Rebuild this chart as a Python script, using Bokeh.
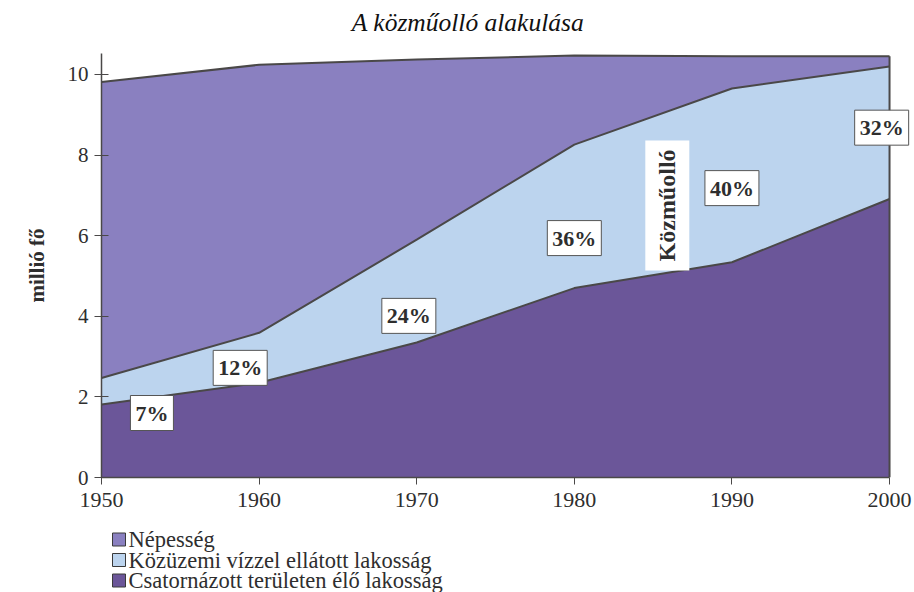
from bokeh.plotting import figure
from bokeh.models import Range1d, Label, ColumnDataSource, FixedTicker
from bokeh.core.properties import value
from bokeh.layouts import column
from bokeh.embed import file_html
from bokeh.resources import INLINE
import math

# ---- data ----
years = [1950, 1960, 1970, 1980, 1990, 2000]
nepesseg = [9.81, 10.24, 10.37, 10.47, 10.45, 10.45]
vizellatott = [2.47, 3.59, 5.90, 8.26, 9.65, 10.20]
csatornazott = [1.81, 2.35, 3.35, 4.70, 5.34, 6.91]
y_ticks = [0, 2, 4, 6, 8, 10]
series_names = ["Népesség", "Közüzemi vízzel ellátott lakosság", "Csatornázott területen élő lakosság"]
pct_labels = ["7%", "12%", "24%", "36%", "40%", "32%"]
title_text = "A közműolló alakulása"
y_label = "millió fő"
gap_label = "Közműolló"

# label anchor positions (data coords)
pct_x = [1953.2, 1958.8, 1969.5, 1980.0, 1990.0, 1999.5]
pct_y = [1.60, 2.72, 4.01, 5.94, 7.18, 8.68]
gap_x, gap_y = 1985.9, 6.75

C_TOP = "#8a80c0"
C_MID = "#bcd4ee"
C_BOT = "#6b5699"
C_LINE = "#4a4848"
C_TEXT = "#2e2e2e"
SERIF = "Liberation Serif"

FRAME_L, FRAME_R, W = 101, 910, 914
TH, MH, LH = 53, 466, 73   # title strip, chart, legend strip heights


def strip(h):
    f = figure(width=W, height=h, x_range=Range1d(FRAME_L, FRAME_R), y_range=Range1d(0, h),
               output_backend="svg", toolbar_location=None, x_axis_type=None, y_axis_type=None,
               min_border_left=FRAME_L, min_border_right=W - FRAME_R,
               min_border_top=0, min_border_bottom=0)
    f.grid.visible = False
    f.outline_line_color = None
    return f


# ---- title strip ----
tf = strip(TH)
tf.text(x=[467.5], y=[TH - 22], text=[title_text], text_font=value(SERIF),
        text_font_style="italic", text_font_size="25.5px", text_color="#111111",
        text_align="center", text_baseline="middle")

# ---- main chart ----
src = ColumnDataSource(dict(x=years, pop=nepesseg, viz=vizellatott, csat=csatornazott,
                            zero=[0] * len(years)))

p = figure(width=W, height=MH, x_range=Range1d(1950, 2001.33), y_range=Range1d(0, 10.52),
           output_backend="svg", toolbar_location=None,
           min_border_left=FRAME_L, min_border_right=W - FRAME_R, min_border_top=0, min_border_bottom=42)
p.outline_line_color = None
p.xgrid.visible = False
p.ygrid.visible = False
p.background_fill_color = "white"

p.varea(x="x", y1="viz", y2="pop", source=src, fill_color=C_TOP)
p.varea(x="x", y1="csat", y2="viz", source=src, fill_color=C_MID)
p.varea(x="x", y1="zero", y2="csat", source=src, fill_color=C_BOT)
for col in ["pop", "viz", "csat"]:
    p.line(x="x", y=col, source=src, line_color=C_LINE, line_width=2)
p.segment(x0=[years[-1]], y0=[0], x1=[years[-1]], y1=[nepesseg[-1]], line_color=C_LINE, line_width=2)

p.xaxis.ticker = FixedTicker(ticks=years)
p.xaxis.bounds = (years[0], years[-1])
p.yaxis.ticker = FixedTicker(ticks=y_ticks)
for ax in (p.xaxis[0], p.yaxis[0]):
    ax.axis_line_color = C_LINE
    ax.axis_line_width = 1.5
    ax.major_tick_line_color = C_LINE
    ax.major_tick_line_width = 1
    ax.minor_tick_line_color = None
    ax.major_label_text_font = SERIF
    ax.major_label_text_color = C_TEXT
p.xaxis.major_tick_in = 0
p.xaxis.major_tick_out = 7
p.xaxis.major_label_text_font_size = "22px"
p.xaxis.major_label_standoff = 8
p.yaxis.major_tick_in = 7
p.yaxis.major_tick_out = 7
p.yaxis.major_label_text_font_size = "21px"
p.yaxis.major_label_standoff = 6
p.yaxis.axis_label = y_label
p.yaxis.axis_label_text_font = SERIF
p.yaxis.axis_label_text_font_style = "bold"
p.yaxis.axis_label_text_font_size = "21px"
p.yaxis.axis_label_text_color = C_TEXT
p.yaxis.axis_label_standoff = 16

for t, x, y in zip(pct_labels, pct_x, pct_y):
    p.add_layout(Label(x=x, y=y, text=t, text_align="center", text_baseline="middle",
                       text_font=SERIF, text_font_style="bold", text_font_size="22px",
                       text_color=C_TEXT, background_fill_color="white",
                       border_line_color="#555555", border_line_width=1, padding=5))
p.add_layout(Label(x=gap_x, y=gap_y, text=gap_label, angle=math.pi / 2,
                   text_align="center", text_baseline="middle",
                   text_font=SERIF, text_font_style="bold", text_font_size="24px",
                   text_color=C_TEXT, background_fill_color="white", padding=9))

# ---- legend strip ----
lf = strip(LH)
row_top, row_pitch, sw_left, sw_size, txt_gap = 53, 20.5, 112, 13, 3
rows_y = [row_top - i * row_pitch for i in range(len(series_names))]
lf.quad(left=[sw_left] * 3, right=[sw_left + sw_size] * 3,
        top=[y + sw_size / 2 for y in rows_y], bottom=[y - sw_size / 2 for y in rows_y],
        fill_color=[C_TOP, C_MID, C_BOT], line_color="#3a3a3a", line_width=1)
lf.text(x=[sw_left + sw_size + txt_gap] * 3, y=rows_y, text=series_names,
        text_font=value(SERIF), text_font_size="22.5px", text_color=C_TEXT,
        text_baseline="middle", text_align="left")

layout = column(tf, p, lf, spacing=0)
open("out.html", "w").write(file_html(layout, INLINE))
